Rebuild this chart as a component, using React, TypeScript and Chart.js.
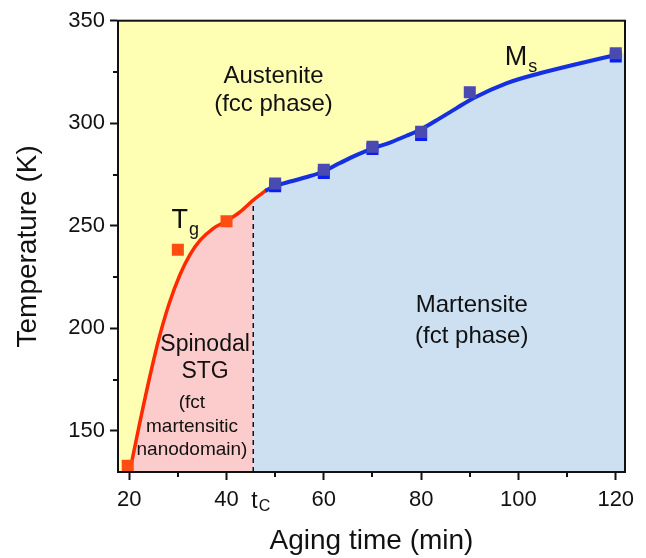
import React, { useEffect, useRef } from 'react';
import { Chart, registerables } from 'chart.js';
Chart.register(...registerables);

const FONT = "'Liberation Sans', Arial, sans-serif";

// axis ranges and ticks
const X_MIN = 17.7;
const X_MAX = 121.9;
const Y_MIN = 130;
const Y_MAX = 350;
const X_MAJOR = [20, 40, 60, 80, 100, 120];
const X_MINOR = [30, 50, 70, 90, 110];
const Y_MAJOR = [150, 200, 250, 300, 350];
const Y_MINOR = [175, 225, 275, 325];
const TC = 45.5;
const TC_T = 262.5;
const EDGE_T = 334.4;

// fitted curves
const RED_X = [20.1, 22, 24, 26, 28.2, 30.5, 32.5, 34.6, 37.3, 40.1, 42.8, 45.5, 48.3];
const RED_T = [130, 152, 174, 194, 212, 226.5, 236, 243, 248.8, 252.5, 256.8, 262.5, 267.6];
const BLUE_X = [48, 49.6, 53.1, 56.5, 59.9, 63.3, 66.8, 70.2, 73.6, 77, 80.4, 83.9, 87.3, 90.7, 97.5, 104.4, 111.2, 120];
const BLUE_T = [267, 269, 271.6, 273.8, 276.5, 280.6, 284.6, 287.9, 290.6, 293.9, 297.6, 302.5, 307.4, 312.2, 319.5, 324.4, 328.4, 333.3];

// measured points
const TG_X = [19.7, 30, 40];
const TG_T = [133, 238.3, 252.2];
const MS_A_X = [50, 60, 70, 80, 90, 120];
const MS_A_T = [270.6, 277.3, 288.6, 295.8, 315.1, 334.1];
const MS_B_X = [50, 60, 70, 80, 120];
const MS_B_T = [269.3, 275.8, 287.5, 294.3, 332.6];

const pts = (xs: number[], ys: number[]) => xs.map((x, i) => ({ x, y: ys[i] }));

const AREA_LABELS = [
  { text: 'Austenite', x: 49.66, y: 323, size: 24 },
  { text: '(fcc phase)', x: 49.66, y: 309.4, size: 24 },
  { text: 'Martensite', x: 90.4, y: 211.4, size: 24 },
  { text: '(fct phase)', x: 90.4, y: 196.3, size: 24 },
  { text: 'Spinodal', x: 35.6, y: 191.9, size: 23 },
  { text: 'STG', x: 35.6, y: 178.8, size: 23 },
  { text: '(fct', x: 32.9, y: 163.7, size: 19 },
  { text: 'martensitic', x: 32.9, y: 152, size: 19 },
  { text: 'nanodomain)', x: 32.9, y: 140.7, size: 19 },
];

const SUB_LABELS = [
  { main: 'T', sub: 'g', x: 28.7, y: 248.8 },
  { main: 'M', sub: 's', x: 97.2, y: 328.4 },
];

const decorPlugin = {
  id: 'decor',
  beforeDraw(chart: any) {
    const { ctx, chartArea: a } = chart;
    ctx.save();
    ctx.fillStyle = '#ffffb4';
    ctx.fillRect(a.left, a.top, a.right - a.left, a.bottom - a.top);
    ctx.restore();
  },
  afterDraw(chart: any) {
    const { ctx, chartArea: a } = chart;
    const xs = chart.scales.x;
    const ys = chart.scales.y;
    ctx.save();
    // frame
    ctx.strokeStyle = '#111';
    ctx.lineWidth = 2;
    ctx.strokeRect(a.left, a.top, a.right - a.left, a.bottom - a.top);
    // minor ticks
    ctx.beginPath();
    X_MINOR.forEach((v) => {
      const p = Math.round(xs.getPixelForValue(v));
      ctx.moveTo(p, a.bottom);
      ctx.lineTo(p, a.bottom + 5);
    });
    Y_MINOR.forEach((v) => {
      const p = Math.round(ys.getPixelForValue(v));
      ctx.moveTo(a.left, p);
      ctx.lineTo(a.left - 5, p);
    });
    ctx.stroke();
    // area labels
    ctx.fillStyle = '#111';
    ctx.textAlign = 'center';
    ctx.textBaseline = 'middle';
    AREA_LABELS.forEach((l) => {
      ctx.font = `${l.size}px ${FONT}`;
      ctx.fillText(l.text, xs.getPixelForValue(l.x), ys.getPixelForValue(l.y));
    });
    // subscript labels
    ctx.textAlign = 'left';
    ctx.textBaseline = 'alphabetic';
    SUB_LABELS.forEach((l) => {
      const px = xs.getPixelForValue(l.x);
      const py = ys.getPixelForValue(l.y);
      ctx.font = `27px ${FONT}`;
      const w = ctx.measureText(l.main).width;
      ctx.fillText(l.main, px, py);
      ctx.font = `18px ${FONT}`;
      ctx.fillText(l.sub, px + w + 1, py + 7);
    });
    // t_C label under the axis
    const tx = xs.getPixelForValue(TC) - 2;
    ctx.font = `23px ${FONT}`;
    const tw = ctx.measureText('t').width;
    ctx.fillText('t', tx, a.bottom + 36);
    ctx.font = `16px ${FONT}`;
    ctx.fillText('C', tx + tw + 1, a.bottom + 39);
    ctx.restore();
  },
};

export default function App() {
  const ref = useRef<HTMLCanvasElement>(null);
  useEffect(() => {
    document.body.style.margin = '0';
    document.body.style.overflow = 'hidden';
    const redCurve = pts(RED_X, RED_T);
    const blueCurve = pts(BLUE_X, BLUE_T);
    const pinkFill = redCurve.filter((p) => p.x <= TC);
    const blueFill = [{ x: TC, y: TC_T }, ...blueCurve, { x: X_MAX, y: EDGE_T }];
    const chart = new Chart(ref.current!, {
      type: 'line',
      data: {
        datasets: [
          {
            data: pts(TG_X, TG_T),
            showLine: false,
            pointStyle: 'rect',
            pointRadius: 8.5,
            pointBorderWidth: 0,
            pointBackgroundColor: '#ff4d12',
            order: 0,
          },
          {
            data: pts(MS_A_X, MS_A_T),
            showLine: false,
            pointStyle: 'rect',
            pointRadius: 8.5,
            pointBorderWidth: 0,
            pointBackgroundColor: '#4a4ab2',
            order: 1,
          },
          {
            data: pts(MS_B_X, MS_B_T),
            showLine: false,
            pointStyle: 'rect',
            pointRadius: 8.5,
            pointBorderWidth: 0,
            pointBackgroundColor: '#0a1ef2',
            order: 2,
          },
          {
            data: blueCurve,
            borderColor: '#1530e0',
            borderWidth: 4,
            pointRadius: 0,
            cubicInterpolationMode: 'monotone',
            fill: false,
            order: 3,
          },
          {
            data: redCurve,
            borderColor: '#ff2a00',
            borderWidth: 3.5,
            pointRadius: 0,
            cubicInterpolationMode: 'monotone',
            fill: false,
            order: 4,
          },
          {
            data: [{ x: TC, y: Y_MIN }, { x: TC, y: TC_T }],
            borderColor: '#111',
            borderWidth: 1.5,
            borderDash: [5, 4],
            pointRadius: 0,
            tension: 0,
            fill: false,
            order: 5,
          },
          {
            data: blueFill,
            borderWidth: 0,
            borderColor: 'rgba(0,0,0,0)',
            backgroundColor: '#cce0f1',
            pointRadius: 0,
            cubicInterpolationMode: 'monotone',
            fill: 'start',
            order: 6,
          },
          {
            data: pinkFill,
            borderWidth: 0,
            borderColor: 'rgba(0,0,0,0)',
            backgroundColor: '#fccbcb',
            pointRadius: 0,
            cubicInterpolationMode: 'monotone',
            fill: 'start',
            order: 7,
          },
        ],
      },
      options: {
        responsive: false,
        animation: false,
        events: [],
        layout: { padding: { top: 20.7, right: 21, left: 0, bottom: 0 } },
        plugins: { legend: { display: false }, tooltip: { enabled: false } },
        scales: {
          x: {
            type: 'linear',
            min: X_MIN,
            max: X_MAX,
            afterBuildTicks: (s: any) => {
              s.ticks = X_MAJOR.map((v) => ({ value: v }));
            },
            afterFit: (s: any) => {
              s.height = 86;
            },
            grid: { drawOnChartArea: false, tickLength: 8, tickWidth: 2, tickColor: '#111' },
            border: { display: true, color: '#111', width: 2 },
            ticks: { color: '#111', font: { family: FONT, size: 22 }, padding: 7, maxRotation: 0, autoSkip: false },
            title: {
              display: true,
              text: 'Aging time (min)',
              color: '#111',
              font: { family: FONT, size: 28 },
              padding: { top: 2.6, bottom: 0 },
            },
          },
          y: {
            type: 'linear',
            min: Y_MIN,
            max: Y_MAX,
            afterBuildTicks: (s: any) => {
              s.ticks = Y_MAJOR.map((v) => ({ value: v }));
            },
            afterFit: (s: any) => {
              s.width = 118;
            },
            grid: { drawOnChartArea: false, tickLength: 8, tickWidth: 2, tickColor: '#111' },
            border: { display: true, color: '#111', width: 2 },
            ticks: { color: '#111', font: { family: FONT, size: 22 }, padding: 5, autoSkip: false },
            title: {
              display: true,
              text: 'Temperature (K)',
              color: '#111',
              font: { family: FONT, size: 28 },
              padding: { top: 11, bottom: 0 },
            },
          },
        },
      },
      plugins: [decorPlugin],
    } as any);
    return () => chart.destroy();
  }, []);
  return (
    <div style={{ width: 646, height: 558, background: '#fff' }}>
      <canvas ref={ref} width={646} height={558} style={{ display: 'block' }} />
    </div>
  );
}
